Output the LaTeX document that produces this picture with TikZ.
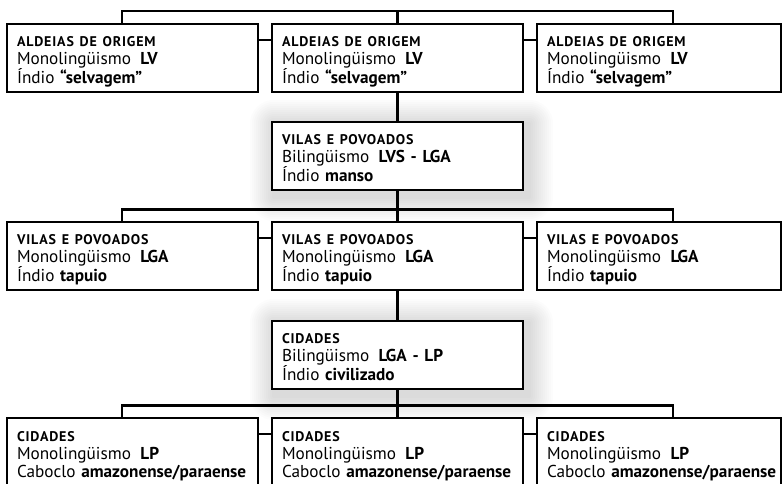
\documentclass[tikz,border=0pt]{standalone}
\usepackage{fontspec}
\setmainfont{PT Sans}
\usepackage{tikz}
\usetikzlibrary{calc,backgrounds}
\newcommand{\titulo}[1]{{\fontsize{14}{18}\selectfont\bfseries\addfontfeature{LetterSpace=6.0}#1}}
\newcommand{\primeira}{\rule{0pt}{18pt}}
\newcommand{\ultima}{\rule[-4pt]{0pt}{4pt}}
\tikzset{
  caixa/.style={draw, line width=2.2pt, fill=white, minimum width=251pt,
    minimum height=68pt, text width=231pt, inner xsep=10pt, inner ysep=0pt,
    align=left, font=\fontsize{17.2}{18}\selectfont},
  caixadir/.style={caixa, minimum width=244pt, text width=224pt},
  liga/.style={line width=2.2pt}
}

\begin{document}
\begin{tikzpicture}[x=1pt,y=-1pt]
  \useasboundingbox (0,0) rectangle (782,484);
  % aldeias
  \node[caixa] (a1) at (132.5,58) {\primeira\titulo{ALDEIAS DE ORIGEM}\\\mbox{Monolingüismo\hspace{0.55em}\textbf{LV}}\\\mbox{Índio \textbf{“selvagem”}}\ultima};
  \node[caixa] (a2) at (397.5,58) {\primeira\titulo{ALDEIAS DE ORIGEM}\\\mbox{Monolingüismo\hspace{0.55em}\textbf{LV}}\\\mbox{Índio \textbf{“selvagem”}}\ultima};
  \node[caixadir] (a3) at (659,58) {\primeira\titulo{ALDEIAS DE ORIGEM}\\\mbox{Monolingüismo\hspace{0.55em}\textbf{LV}}\\\mbox{Índio \textbf{“selvagem”}}\ultima};
  \node[caixa] (v) at (397.5,156) {\primeira\titulo{VILAS E POVOADOS}\\\mbox{Bilingüismo\hspace{0.55em}\textbf{LVS - LGA}}\\\mbox{Índio \textbf{manso}}\ultima};
  % vilas
  \node[caixa] (b1) at (132.5,256) {\primeira\titulo{VILAS E POVOADOS}\\\mbox{Monolingüismo\hspace{0.55em}\textbf{LGA}}\\\mbox{Índio \textbf{tapuio}}\ultima};
  \node[caixa] (b2) at (397.5,256) {\primeira\titulo{VILAS E POVOADOS}\\\mbox{Monolingüismo\hspace{0.55em}\textbf{LGA}}\\\mbox{Índio \textbf{tapuio}}\ultima};
  \node[caixadir] (b3) at (659,256) {\primeira\titulo{VILAS E POVOADOS}\\\mbox{Monolingüismo\hspace{0.55em}\textbf{LGA}}\\\mbox{Índio \textbf{tapuio}}\ultima};
  \node[caixa] (c) at (397.5,355) {\primeira\titulo{CIDADES}\\\mbox{Bilingüismo\hspace{0.55em}\textbf{LGA - LP}}\\\mbox{Índio \textbf{civilizado}}\ultima};
  % cidades
  \node[caixa] (d1) at (132.5,452) {\primeira\titulo{CIDADES}\\\mbox{Monolingüismo\hspace{0.55em}\textbf{LP}}\\\mbox{Caboclo \textbf{amazonense/paraense}}\ultima};
  \node[caixa] (d2) at (397.5,452) {\primeira\titulo{CIDADES}\\\mbox{Monolingüismo\hspace{0.55em}\textbf{LP}}\\\mbox{Caboclo \textbf{amazonense/paraense}}\ultima};
  \node[caixadir] (d3) at (659,452) {\primeira\titulo{CIDADES}\\\mbox{Monolingüismo\hspace{0.55em}\textbf{LP}}\\\mbox{Caboclo \textbf{amazonense/paraense}}\ultima};

  % sombras
  \begin{scope}[on background layer]
    \foreach \n in {v,c}
      \foreach \k in {1,...,12}
        \fill[black,opacity=0.011,rounded corners={2pt*\k}]
          ($(\n.north west)+(3-2*\k,3-2*\k)$) rectangle ($(\n.south east)+(5+2*\k,6+2*\k)$);
  \end{scope}

  % ligacoes
  \foreach \x/\y/\z in {a1/a2/a3,b1/b2/b3,d1/d2/d3} {
    \draw[liga] ([xshift=-10.5pt]\x.north) -- ++(0,-11.5) -| ([xshift=14pt]\z.north);
    \draw[liga] (\y.north) -- ++(0,-11.5);
    \draw[liga] ([yshift=18pt]\x.east) -- ([yshift=18pt]\y.west);
    \draw[liga] ([yshift=18pt]\y.east) -- ([yshift=18pt]\z.west);
  }
  \draw[liga] (a2.south) -- (v.north);
  \draw[liga] (v.south) -- (b2.north);
  \draw[liga] (b2.south) -- (c.north);
  \draw[liga] (c.south) -- (d2.north);
\end{tikzpicture}
\end{document}
